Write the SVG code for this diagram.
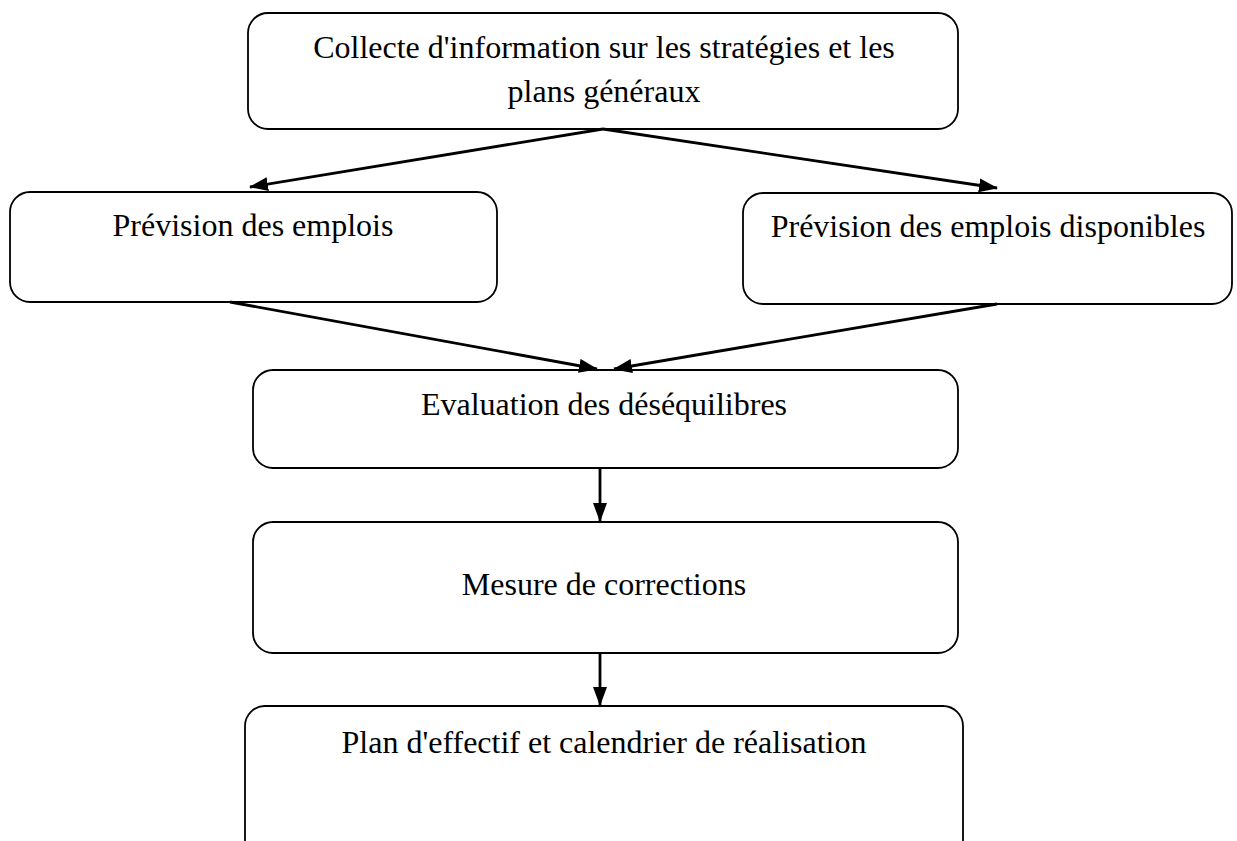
<svg xmlns="http://www.w3.org/2000/svg" width="1237" height="841" viewBox="0 0 1237 841">
<style>
.box{fill:#fff;stroke:#000;stroke-width:1.8}
.t{font-family:"Liberation Serif","Times New Roman",serif;font-size:32px;fill:#000;text-anchor:middle}
.c{stroke:#000;stroke-width:2.8;fill:none;marker-end:url(#ah)}
</style>
<defs>
<marker id="ah" markerUnits="userSpaceOnUse" markerWidth="19" markerHeight="14" refX="18" refY="7" orient="auto">
<path d="M0,0 L19,7 L0,14 z" fill="#000"/>
</marker>
</defs>
<rect width="1237" height="841" fill="#fff"/>
<g id="n1">
<rect class="box" x="248" y="13" width="710" height="116" rx="20"/>
<text class="t" x="604" y="58">Collecte d'information sur les stratégies et les</text>
<text class="t" x="604" y="102">plans généraux</text>
</g>
<g id="n2">
<rect class="box" x="10" y="192" width="487" height="110" rx="20"/>
<text class="t" x="253" y="236">Prévision des emplois</text>
</g>
<g id="n3">
<rect class="box" x="743" y="193" width="489" height="111" rx="20"/>
<text class="t" x="988" y="237">Prévision des emplois disponibles</text>
</g>
<g id="n4">
<rect class="box" x="253" y="370" width="705" height="98" rx="20"/>
<text class="t" x="604" y="415">Evaluation des déséquilibres</text>
</g>
<g id="n5">
<rect class="box" x="253" y="522" width="705" height="131" rx="20"/>
<text class="t" x="604" y="595">Mesure de corrections</text>
</g>
<g id="n6">
<rect class="box" x="245" y="706" width="718" height="160" rx="20"/>
<text class="t" x="604" y="753">Plan d'effectif et calendrier de réalisation</text>
</g>
<g id="connectors">
<line class="c" x1="603" y1="129" x2="250" y2="187"/>
<line class="c" x1="603" y1="129" x2="997" y2="188"/>
<line class="c" x1="230" y1="302" x2="597" y2="369"/>
<line class="c" x1="997" y1="304" x2="614" y2="369"/>
<line class="c" x1="600" y1="468" x2="600" y2="521"/>
<line class="c" x1="600" y1="653" x2="600" y2="705"/>
</g>
</svg>
